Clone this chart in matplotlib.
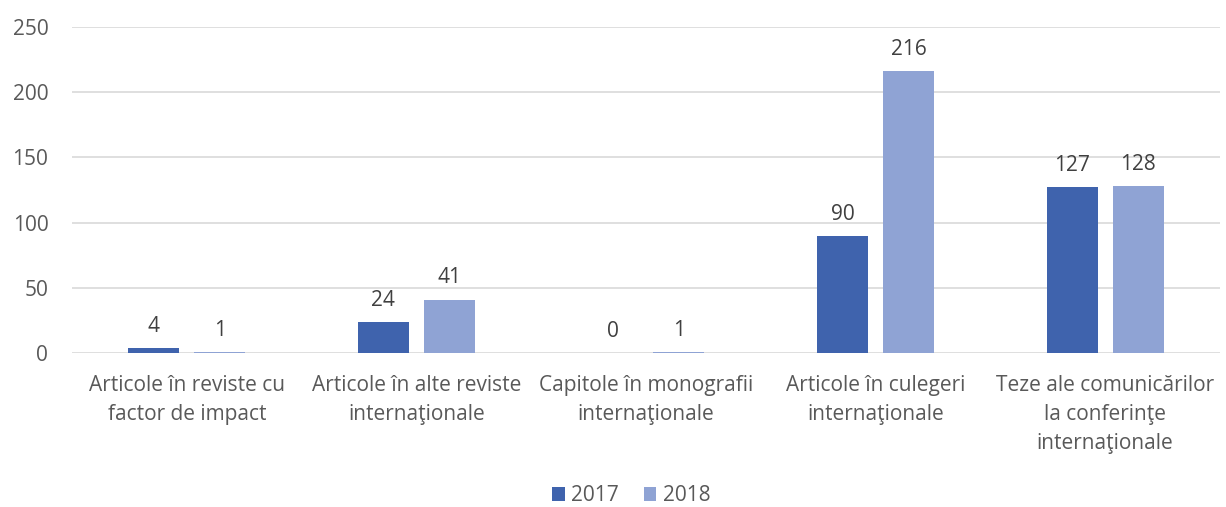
import matplotlib
matplotlib.use("Agg")
import matplotlib.pyplot as plt
import numpy as np

categories = [
    "Articole în reviste cu\nfactor de impact",
    "Articole în alte reviste\ninternaţionale",
    "Capitole în monografii\ninternaţionale",
    "Articole în culegeri\ninternaţionale",
    "Teze ale comunicărilor\nla conferinţe\ninternaţionale",
]
series_names = ["2017", "2018"]
values_2017 = [4, 24, 0, 90, 127]
values_2018 = [1, 41, 1, 216, 128]
y_ticks = [0, 50, 100, 150, 200, 250]

colors = ["#3F63AD", "#8FA3D4"]
text_color = "#595959"
grid_color = "#D9D9D9"

plt.rcParams["font.family"] = ["Open Sans", "DejaVu Sans"]

fig = plt.figure(figsize=(12.26, 5.07), dpi=100)
ax = fig.add_axes([0.0587, 0.3037, 0.9363, 0.643])

x = np.arange(len(categories))
width = 0.222
offset = 0.144
for vals, name, col, sgn in zip([values_2017, values_2018], series_names, colors, [-1, 1]):
    bars = ax.bar(x + sgn * offset, vals, width, color=col, label=name, zorder=3)
    for b, v in zip(bars, vals):
        ax.annotate(str(v), (b.get_x() + b.get_width() / 2, v),
                    xytext=(0, 8), textcoords="offset points",
                    ha="center", va="bottom", fontsize=15, color="#404040")

ax.set_xlim(-0.5, len(categories) - 0.5)
ax.set_ylim(0, 250)
ax.set_yticks(y_ticks)
ax.set_xticks(x)
ax.set_xticklabels(categories, fontsize=15, color=text_color, linespacing=1.5)
ax.tick_params(axis="y", labelsize=15, labelcolor=text_color, length=0, pad=17)
ax.tick_params(axis="x", length=0, pad=16)
ax.grid(axis="y", color=grid_color, linewidth=1.2, zorder=0)
for s in ax.spines.values():
    s.set_visible(False)

fig.legend(loc="center", bbox_to_anchor=(0.515, 0.022), ncol=2, frameon=False,
           fontsize=15, labelcolor=text_color, handlelength=0.6, handleheight=0.6,
           handletextpad=0.3, columnspacing=1.2)

fig.savefig("out.png", dpi=100, facecolor="white")
